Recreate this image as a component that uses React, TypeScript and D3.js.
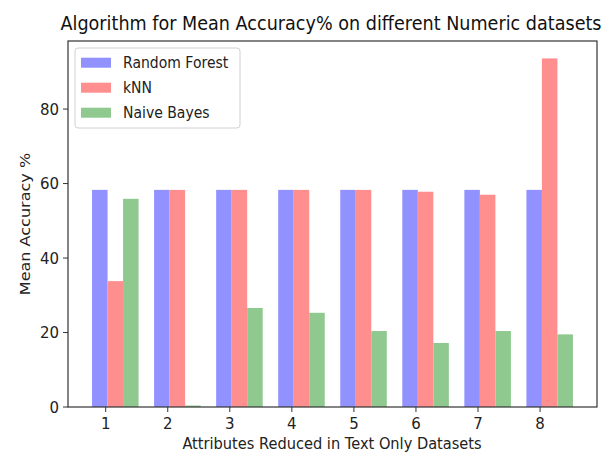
import React from "react";
import * as d3 from "d3";

const categories = [1, 2, 3, 4, 5, 6, 7, 8];
const randomForest = [58.3, 58.3, 58.3, 58.3, 58.3, 58.3, 58.3, 58.3];
const knn = [33.8, 58.3, 58.3, 58.3, 58.3, 57.8, 57.0, 93.6];
const naiveBayes = [55.9, 0.4, 26.6, 25.3, 20.4, 17.2, 20.4, 19.5];
const yTicks = [0, 20, 40, 60, 80];
const seriesNames = ["Random Forest", "kNN", "Naive Bayes"];
const colors = ["#9191ff", "#ff8f8f", "#8fc98f"];

const W = 611;
const H = 457;
const L = 68, R = 597, T = 41, B = 407;
const FONT = "'DejaVu Sans', sans-serif";
const SY = 1.1;

export default function App() {
  const x = d3.scaleLinear().domain([0.3925, 8.9175]).range([L, R]);
  const allMax = d3.max([...randomForest, ...knn, ...naiveBayes]) as number;
  const y = d3.scaleLinear().domain([0, allMax * 1.05]).range([B, T]);
  const bw = 0.25;
  const offsets = [-0.22, 0.03, 0.28];
  const series = [randomForest, knn, naiveBayes];

  const T_ = (px: number, py: number, extra = "") => `translate(${px},${py}) scale(1,${SY})${extra}`;

  return (
    <svg width={W} height={H} style={{ position: "absolute", left: 0, top: 0, background: "#fff" }}>
      <rect x={0} y={0} width={W} height={H} fill="#fff" />
      {series.map((vals, si) =>
        vals.map((v, i) => {
          const x0 = x(categories[i] + offsets[si]);
          const x1 = x(categories[i] + offsets[si] + bw);
          return (
            <rect key={`${si}-${i}`} x={x0} y={y(v)} width={x1 - x0} height={B - y(v)} fill={colors[si]} />
          );
        })
      )}
      <rect x={L} y={T} width={R - L} height={B - T} fill="none" stroke="#333" strokeWidth={1.2} />
      {categories.map((c) => (
        <g key={`xt${c}`}>
          <line x1={x(c)} x2={x(c)} y1={B} y2={B + 5} stroke="#333" strokeWidth={1} />
          <text transform={T_(x(c), 429)} textAnchor="middle" fontFamily={FONT} fontSize={15} fill="#222">
            {c}
          </text>
        </g>
      ))}
      {yTicks.map((t) => (
        <g key={`yt${t}`}>
          <line x1={L - 5} x2={L} y1={y(t)} y2={y(t)} stroke="#333" strokeWidth={1} />
          <text transform={T_(L - 9, y(t) + 5.5)} textAnchor="end" fontFamily={FONT} fontSize={15} fill="#222">
            {t}
          </text>
        </g>
      ))}
      <text transform={T_(331, 30)} textAnchor="middle" fontFamily={FONT} fontSize={17.6} fill="#111">
        Algorithm for Mean Accuracy% on different Numeric datasets
      </text>
      <text transform={T_(332, 449)} textAnchor="middle" fontFamily={FONT} fontSize={14.6} fill="#222">
        Attributes Reduced in Text Only Datasets
      </text>
      <text transform={`translate(30,224) scale(1,${SY}) rotate(-90)`} textAnchor="middle" fontFamily={FONT} fontSize={14.6} fill="#222">
        Mean Accuracy %
      </text>
      <rect x={75} y={48} width={165} height={80} rx={3} fill="#fff" fillOpacity={0.8} stroke="#d0d0d0" strokeWidth={1} />
      {seriesNames.map((n, i) => (
        <g key={n}>
          <rect x={81} y={57.7 + i * 25} width={30} height={10} fill={colors[i]} />
          <text transform={T_(123, 62.7 + i * 25 + 5)} fontFamily={FONT} fontSize={14} fill="#222">
            {n}
          </text>
        </g>
      ))}
    </svg>
  );
}
